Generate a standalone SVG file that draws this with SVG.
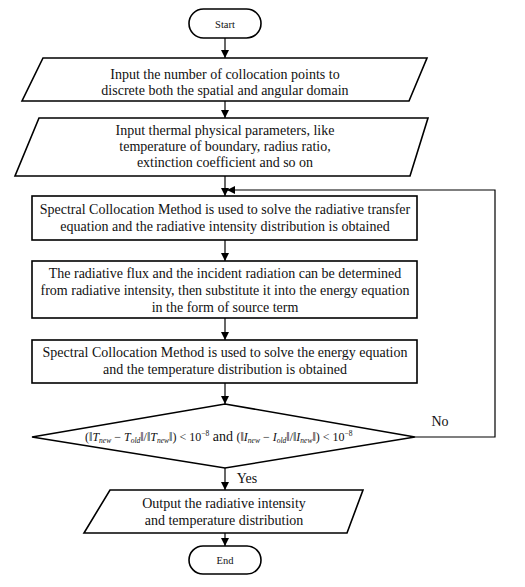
<svg xmlns="http://www.w3.org/2000/svg" width="525" height="587" viewBox="0 0 525 587">
<style>
.s{fill:#fff;stroke:#000;stroke-width:1.6}
.t{font-family:"Liberation Serif","Times New Roman",serif;font-size:14px;fill:#111;text-anchor:middle}
.sm{font-size:10.5px}
.c{fill:none;stroke:#000;stroke-width:1.2}
.m{font-family:"Liberation Serif","Times New Roman",serif;font-size:12px;fill:#111}
.i{font-style:italic}
.sub{font-size:7.5px;font-style:italic}
.sup{font-size:7.5px}
</style>
<defs>
<marker id="a" markerWidth="10" markerHeight="10" refX="8" refY="4" orient="auto" markerUnits="userSpaceOnUse">
<path d="M0,0 L8,4 L0,8 Z" fill="#000"/>
</marker>
</defs>
<rect width="525" height="587" fill="#fff"/>
<g id="connectors">
<line class="c" x1="225" y1="38" x2="225" y2="58" marker-end="url(#a)"/>
<line class="c" x1="225" y1="101" x2="225" y2="118" marker-end="url(#a)"/>
<line class="c" x1="225" y1="176" x2="225" y2="196" marker-end="url(#a)"/>
<line class="c" x1="225" y1="240" x2="225" y2="261" marker-end="url(#a)"/>
<line class="c" x1="225" y1="318" x2="225" y2="340" marker-end="url(#a)"/>
<line class="c" x1="225" y1="383" x2="225" y2="404" marker-end="url(#a)"/>
<line class="c" x1="225" y1="468" x2="225" y2="490" marker-end="url(#a)"/>
<line class="c" x1="225" y1="533" x2="225" y2="546" marker-end="url(#a)"/>
<polyline class="c" points="415,437 495,437 495,190 227,190" marker-end="url(#a)"/>
<text class="t" x="440" y="426">No</text>
<text class="t" x="247" y="483">Yes</text>
</g>
<g id="start">
<rect class="s" x="189" y="9" width="72" height="29" rx="14.5"/>
<text class="t sm" x="225" y="28">Start</text>
</g>
<g id="input1">
<polygon class="s" points="43,58 427,58 409,101 22,101"/>
<text class="t" x="225" y="79">Input the number of collocation points to</text>
<text class="t" x="225" y="95">discrete both the spatial and angular domain</text>
</g>
<g id="input2">
<polygon class="s" points="39,118 428,118 410,176 15,176"/>
<text class="t" x="225" y="135">Input thermal physical  parameters, like</text>
<text class="t" x="225" y="151">temperature of boundary, radius ratio,</text>
<text class="t" x="225" y="167">extinction coefficient and so on</text>
</g>
<g id="rte">
<rect class="s" x="32" y="196" width="385" height="44"/>
<text class="t" x="225" y="214">Spectral Collocation Method is used to solve the radiative transfer</text>
<text class="t" x="225" y="231">equation and the radiative intensity distribution is obtained</text>
</g>
<g id="flux">
<rect class="s" x="32" y="261" width="385" height="57"/>
<text class="t" x="225" y="278">The radiative flux and the incident radiation can be determined</text>
<text class="t" x="225" y="295">from radiative intensity, then substitute it into the energy equation</text>
<text class="t" x="225" y="312">in the form of source term</text>
</g>
<g id="energy">
<rect class="s" x="32" y="340" width="385" height="43"/>
<text class="t" x="225" y="357">Spectral Collocation Method is used to solve the energy equation</text>
<text class="t" x="225" y="374">and the temperature distribution is obtained</text>
</g>
<g id="check">
<polygon class="s" points="225,404 415,437 225,468 32,437"/>
<text class="m" x="85" y="441">(‖<tspan class="i">T</tspan><tspan class="sub" dy="2">new</tspan><tspan dy="-2"> − </tspan><tspan class="i">T</tspan><tspan class="sub" dy="2">old</tspan><tspan dy="-2">‖/‖</tspan><tspan class="i">T</tspan><tspan class="sub" dy="2">new</tspan><tspan dy="-2">‖) &lt; 10</tspan><tspan class="sup" dy="-5">−8</tspan><tspan dy="5" font-size="14"> and </tspan>(‖<tspan class="i">I</tspan><tspan class="sub" dy="2">new</tspan><tspan dy="-2"> − </tspan><tspan class="i">I</tspan><tspan class="sub" dy="2">old</tspan><tspan dy="-2">‖/‖</tspan><tspan class="i">I</tspan><tspan class="sub" dy="2">new</tspan><tspan dy="-2">‖) &lt; 10</tspan><tspan class="sup" dy="-5">−8</tspan></text>
</g>
<g id="output">
<polygon class="s" points="110,490 363,490 347,533 84,533"/>
<text class="t" x="224" y="508">Output the radiative intensity</text>
<text class="t" x="224" y="525">and temperature distribution</text>
</g>
<g id="end">
<rect class="s" x="189" y="546" width="72" height="28" rx="14"/>
<text class="t sm" x="225" y="564">End</text>
</g>
</svg>
